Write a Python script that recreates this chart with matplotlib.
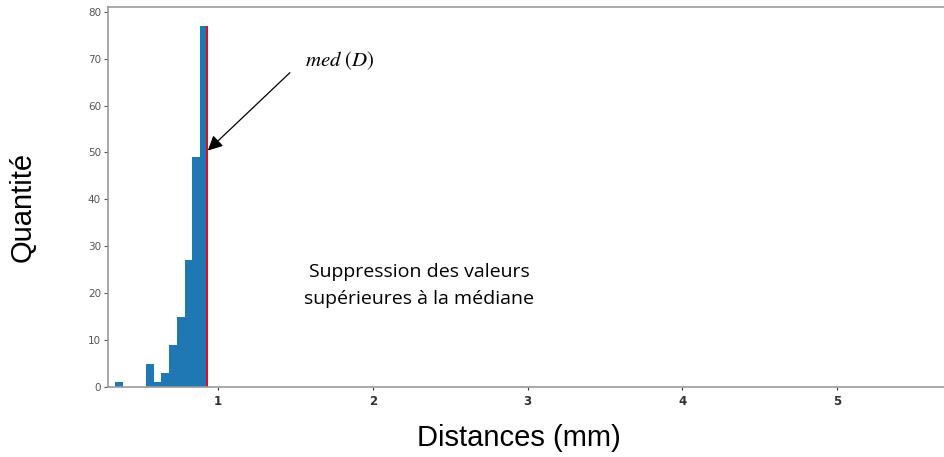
import matplotlib.pyplot as plt
import numpy as np

plt.rcParams['mathtext.fontset'] = 'stix'

# histogramme des distances (après suppression des valeurs > médiane)
bord_gauche = 0.335
largeur = 0.05
quantites = [1, 0, 0, 0, 5, 1, 3, 9, 15, 27, 49, 77]
mediane = 0.93

bords = bord_gauche + largeur * np.arange(len(quantites) + 1)

fig = plt.figure(figsize=(9.44, 4.57), dpi=100)
ax = fig.add_axes([0.1144, 0.1532, 0.8856, 0.8315])

ax.hist(bords[:-1], bins=bords, weights=quantites, color='#1f77b4')
ax.vlines(mediane, 0, max(quantites), color='red', linewidth=1.3)

ax.set_xlim(0.29, 5.69)
ax.set_ylim(0, 81)
ax.set_xticks([1, 2, 3, 4, 5])
ax.set_yticks(range(0, 81, 10))

for cote in ['top', 'bottom', 'left']:
    ax.spines[cote].set_color('#999999')
    ax.spines[cote].set_linewidth(1.2)
ax.spines['right'].set_visible(False)

ax.tick_params(axis='y', labelsize=7.5, colors='#555555', length=3, pad=2)
ax.tick_params(axis='x', labelsize=8.5, colors='#333333', length=2)
for lab in ax.get_xticklabels():
    lab.set_fontweight('bold')

# étiquettes d'axes
fig.text(0.024, 0.547, 'Quantité', rotation=90, ha='center', va='center',
         fontsize=21, family='Liberation Sans')
fig.text(0.55, 0.042, 'Distances (mm)', ha='center', va='center',
         fontsize=21, family='Liberation Sans')

# annotation de la médiane
ax.text(1.79, 69.5, '$med\\ (D)$', ha='center', va='center', fontsize=15)
ax.annotate('', xy=(mediane + 0.005, 50.4), xytext=(1.465, 67.0),
            arrowprops=dict(arrowstyle='-|>', color='black', lw=0.9,
                            mutation_scale=22, shrinkA=0, shrinkB=0))

ax.text(2.3, 21.6, 'Suppression des valeurs\nsupérieures à la médiane',
        ha='center', va='center', fontsize=14, family='Open Sans',
        linespacing=1.65)

fig.savefig('out.png', dpi=100)
